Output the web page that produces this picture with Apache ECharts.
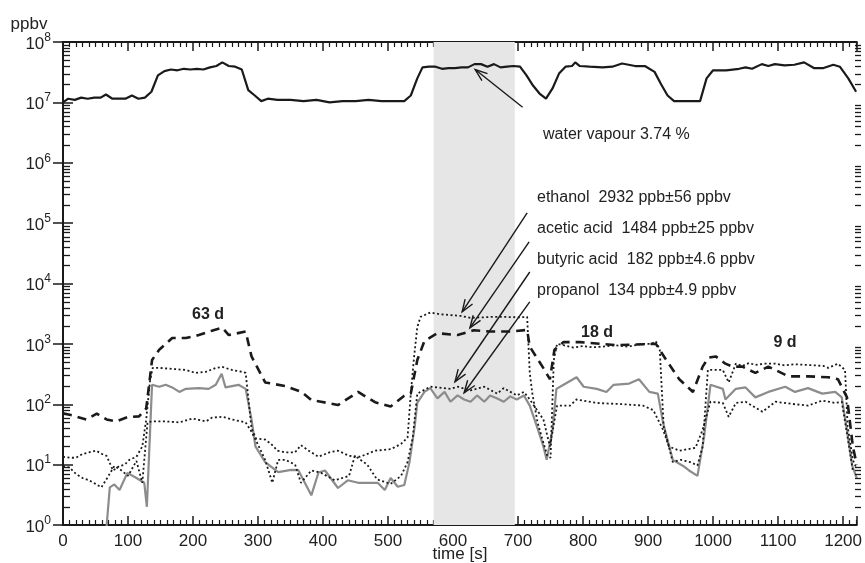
<!DOCTYPE html>
<html>
<head>
<meta charset="utf-8">
<script src="https://cdn.jsdelivr.net/npm/echarts@6/dist/echarts.min.js"></script>
<style>
html, body { margin: 0; background: #fff; }
#chart { width: 865px; height: 563px; }
</style>
</head>
<body>
<div id="chart"></div>
<script>
// time [s], concentration [ppbv]
const water = [[0,1.0e7],[8,1.15e7],[18,1.1e7],[28,1.2e7],[38,1.15e7],[48,1.2e7],[58,1.2e7],[66,1.35e7],[76,1.15e7],[86,1.15e7],[96,1.15e7],[106,1.3e7],[116,1.15e7],[126,1.2e7],[136,1.5e7],[146,2.8e7],[156,3.3e7],[166,3.5e7],[176,3.4e7],[186,3.6e7],[196,3.5e7],[206,3.6e7],[216,3.5e7],[226,3.8e7],[236,4.0e7],[245,4.6e7],[255,4.0e7],[265,3.9e7],[275,3.5e7],[285,1.6e7],[295,1.3e7],[305,1.05e7],[315,1.15e7],[330,1.1e7],[350,1.1e7],[370,1.05e7],[390,1.1e7],[410,1.0e7],[430,1.05e7],[450,1.05e7],[470,1.1e7],[490,1.05e7],[510,1.05e7],[525,1.05e7],[535,1.3e7],[545,2.5e7],[553,3.8e7],[563,3.9e7],[573,3.9e7],[583,3.6e7],[593,3.7e7],[603,3.7e7],[613,3.8e7],[623,3.8e7],[633,4.3e7],[643,4.3e7],[653,3.9e7],[663,4.3e7],[673,3.8e7],[683,3.9e7],[693,4.0e7],[703,3.9e7],[713,2.8e7],[723,1.9e7],[733,1.4e7],[743,1.15e7],[753,1.7e7],[763,3.0e7],[773,3.9e7],[783,4.0e7],[788,4.6e7],[795,4.0e7],[810,3.9e7],[830,3.8e7],[845,3.9e7],[860,4.4e7],[870,4.2e7],[880,4.0e7],[895,4.0e7],[910,3.2e7],[920,2.0e7],[930,1.3e7],[940,1.05e7],[960,1.05e7],[980,1.05e7],[990,2.5e7],[1000,3.4e7],[1020,3.4e7],[1040,3.6e7],[1050,3.8e7],[1060,3.6e7],[1075,4.3e7],[1085,4.0e7],[1095,4.3e7],[1110,4.1e7],[1125,4.2e7],[1140,4.6e7],[1155,3.7e7],[1170,3.7e7],[1185,4.2e7],[1195,3.9e7],[1208,2.5e7],[1220,1.5e7]];

const acetic = [[0,71],[15,65],[36,56],[52,70],[67,56],[82,52],[99,61],[117,63],[128,85],[137,540],[148,800],[168,1250],[189,1250],[209,1400],[229,1650],[245,1850],[255,1400],[281,1600],[290,620],[311,230],[342,200],[367,160],[382,117],[397,110],[423,97],[454,160],[480,108],[504,92],[525,138],[535,150],[545,540],[556,1120],[576,1500],[607,1400],[632,1680],[657,1600],[688,1600],[714,1700],[718,900],[740,380],[749,260],[756,800],[770,1070],[795,1070],[851,950],[912,1000],[928,540],[948,260],[969,160],[984,420],[993,590],[1004,620],[1019,470],[1030,420],[1045,420],[1065,330],[1085,420],[1116,290],[1146,290],[1177,280],[1192,260],[1206,130],[1215,20],[1221,10]];

const ethanol = [[0,13.5],[10,13],[20,13],[30,15],[40,16],[51,17],[60,15],[67,14],[77,8],[87,9.5],[95,10],[102,12],[113,13.5],[122,20],[128,56],[134,250],[138,400],[148,400],[168,385],[189,370],[204,330],[220,345],[235,400],[245,415],[260,370],[275,345],[281,330],[290,40],[297,27],[311,26],[320,22],[330,17],[342,16],[357,16],[366,21],[378,17],[393,13.5],[410,16],[423,17],[440,14],[457,13.5],[480,17],[504,18],[520,22],[530,28],[535,150],[540,600],[545,1900],[550,2800],[565,3300],[580,3100],[596,3000],[612,2900],[627,2700],[645,2750],[660,2800],[678,2800],[700,2750],[714,2800],[718,330],[722,150],[730,50],[738,25],[745,14],[750,13],[755,540],[760,1000],[770,950],[785,870],[800,920],[815,880],[830,900],[850,950],[870,900],[890,1000],[905,1000],[912,1100],[918,800],[924,43],[932,20],[938,11],[950,12],[965,11],[976,9.7],[984,20],[992,370],[1000,370],[1015,370],[1024,230],[1035,470],[1045,430],[1055,480],[1065,450],[1080,470],[1096,470],[1110,440],[1126,460],[1140,450],[1157,440],[1170,430],[1177,400],[1192,470],[1203,370],[1207,43],[1215,12],[1220,9]];

const butyric = [[0,9.4],[10,9],[20,7],[30,6],[40,5.5],[50,4.8],[59,4.2],[68,6],[79,9.5],[90,8],[100,6.5],[113,11.5],[122,5],[130,50],[137,52],[158,52],[179,50],[199,58],[220,52],[229,60],[245,62],[260,56],[281,50],[290,35],[297,25],[311,12],[322,5],[331,12],[342,12],[357,10],[366,5],[382,8],[397,7.3],[418,5.5],[440,6.5],[449,14],[468,10],[483,5.7],[504,4.8],[520,6.5],[530,11],[538,28],[545,150],[565,195],[596,180],[607,195],[627,170],[648,195],[668,150],[678,185],[698,140],[709,160],[718,120],[739,56],[749,20],[760,95],[780,95],[790,120],[821,105],[862,100],[892,95],[908,80],[923,38],[932,20],[948,17],[973,19],[984,38],[996,110],[1015,105],[1024,62],[1035,105],[1050,110],[1076,75],[1096,110],[1126,100],[1146,95],[1168,115],[1188,105],[1198,110],[1207,28],[1215,8]];

const propanol = [[66,0.7],[72,4.2],[79,4.7],[87,3.8],[99,7.3],[113,6],[125,5],[129,2],[137,210],[148,195],[158,210],[168,190],[179,160],[189,180],[209,185],[224,180],[235,210],[244,320],[250,190],[260,200],[270,210],[281,180],[290,56],[296,20],[311,11],[331,7.5],[351,8.2],[362,8.1],[382,3.1],[393,7.4],[403,8],[423,4.1],[438,5.5],[454,5],[484,5],[495,3.8],[504,6],[515,4.3],[525,4.6],[533,11],[541,43],[545,105],[556,160],[565,185],[576,125],[587,160],[596,110],[607,140],[617,120],[627,110],[637,140],[648,110],[657,140],[668,125],[678,110],[688,135],[698,120],[709,140],[718,95],[729,43],[739,20],[744,12],[753,37],[759,180],[770,210],[790,280],[801,195],[821,180],[836,160],[847,210],[871,220],[886,260],[902,160],[915,150],[923,50],[938,12],[954,9.5],[963,8],[976,6.5],[986,28],[996,210],[1015,180],[1019,120],[1035,180],[1050,190],[1065,130],[1085,160],[1111,195],[1126,160],[1146,185],[1168,150],[1188,160],[1198,130],[1206,37],[1214,9.6],[1221,6]];

// highlighted interval [s]
const shade = [570, 695];

// arrows: [x0, y0, x1 (tip), y1 (tip)]
const arrows = [
  [707, 8.3e6, 634, 3.5e7],
  [714, 1.48e5, 614, 3400],
  [717, 4.9e4, 626, 1840],
  [718, 1.55e4, 603, 236],
  [718, 4960, 617, 155]
];

const xMin = 0;
const xMax = 1221;
const font = 'Liberation Sans, Arial, Helvetica, sans-serif';
const ink = '#1a1a1a';
const gridBox = { left: 63, right: 3, top: 42, bottom: 38 };

// log minor tick values 2..9 per decade
const minorVals = [];
for (let k = 0; k < 8; k++) {
  for (let d = 2; d <= 9; d++) minorVals.push(d * Math.pow(10, k));
}

const chart = echarts.init(document.getElementById('chart'));

function lineSeries(name, data, color, width, type, z) {
  return {
    name: name,
    type: 'line',
    data: data,
    showSymbol: false,
    symbol: 'none',
    z: z,
    lineStyle: { color: color, width: width, type: type },
    silent: true
  };
}

function label(text, x, y, size, opts) {
  return {
    type: 'text', x: x, y: y, silent: true,
    style: Object.assign({ text: text, font: size + 'px ' + font, fill: '#222', verticalAlign: 'middle' }, opts || {})
  };
}

const texts = [
  label('ppbv', 29, 24, 17, { align: 'center' }),
  label('time [s]', 460, 554, 17, { align: 'center' }),
  label('water vapour 3.74 %', 543, 135, 16),
  label('ethanol  2932 ppb\u00b156 ppbv', 537, 198, 16),
  label('acetic acid  1484 ppb\u00b125 ppbv', 537, 229, 16),
  label('butyric acid  182 ppb\u00b14.6 ppbv', 537, 260, 16),
  label('propanol  134 ppb\u00b14.9 ppbv', 537, 291, 16),
  label('63 d', 208, 315, 16, { align: 'center', font: 'bold 16px ' + font }),
  label('42 d', 453, 288, 16, { align: 'center', font: 'bold 16px ' + font }),
  label('18 d', 597, 333, 16, { align: 'center', font: 'bold 16px ' + font }),
  label('9 d', 785, 343, 16, { align: 'center', font: 'bold 16px ' + font })
];

const waterSeries = lineSeries('water vapour', water, ink, 2.2, 'solid', 5);
waterSeries.markArea = {
  silent: true,
  itemStyle: { color: '#e6e6e6' },
  data: [[{ xAxis: shade[0] }, { xAxis: shade[1] }]]
};

const tickStyle = { color: ink, width: 1.5 };
const minorStyle = { color: ink, width: 1.2 };

chart.setOption({
  animation: false,
  backgroundColor: '#fff',
  textStyle: { fontFamily: font },
  grid: gridBox,
  xAxis: [
    {
      type: 'value', min: xMin, max: xMax, interval: 100,
      axisLine: { lineStyle: { color: ink, width: 2 } },
      axisTick: { inside: true, length: 9, lineStyle: tickStyle },
      minorTick: { show: true, splitNumber: 10, length: 5, lineStyle: minorStyle },
      splitLine: { show: false },
      axisLabel: {
        margin: 8, fontSize: 17, color: '#222', fontFamily: font,
        showMaxLabel: false,
        formatter: v => (v % 100 === 0 ? String(v) : '')
      }
    },
    {
      type: 'value', min: xMin, max: xMax, interval: 100, position: 'top',
      axisLine: { lineStyle: { color: ink, width: 2 } },
      axisTick: { inside: true, length: 9, lineStyle: tickStyle },
      minorTick: { show: true, splitNumber: 10, length: 5, lineStyle: minorStyle },
      splitLine: { show: false },
      axisLabel: { show: false }
    }
  ],
  yAxis: [
    {
      type: 'log', logBase: 10, min: 1, max: 1e8, interval: 1,
      axisLine: { lineStyle: { color: ink, width: 2 } },
      axisTick: { inside: true, length: 10, lineStyle: tickStyle },
      splitLine: { show: false },
      axisLabel: {
        margin: 12, color: '#222',
        formatter: v => '{b|10}{s|' + Math.round(Math.log10(v)) + '}',
        rich: {
          b: { fontSize: 17, fontFamily: font, color: '#222', verticalAlign: 'bottom' },
          s: { fontSize: 12, fontFamily: font, color: '#222', verticalAlign: 'bottom', padding: [0, 0, 9, 0] }
        }
      }
    },
    {
      type: 'log', logBase: 10, min: 1, max: 1e8, interval: 1, position: 'right',
      axisLine: { lineStyle: { color: ink, width: 2 } },
      axisTick: { inside: true, length: 10, lineStyle: tickStyle },
      splitLine: { show: false },
      axisLabel: { show: false }
    }
  ],
  graphic: texts,
  series: [
    waterSeries,
    lineSeries('propanol', propanol, '#8c8c8c', 2.2, 'solid', 4),
    lineSeries('acetic acid', acetic, ink, 2.6, [9, 6], 5),
    lineSeries('ethanol', ethanol, ink, 1.8, [2, 2.5], 5),
    lineSeries('butyric acid', butyric, ink, 1.8, [2, 2.5], 5),
    {
      type: 'custom', silent: true, z: 6,
      data: arrows,
      encode: { x: [0, 2], y: [1, 3] },
      renderItem: function (params, api) {
        const a = api.coord([api.value(0), api.value(1)]);
        const b = api.coord([api.value(2), api.value(3)]);
        const ang = Math.atan2(b[1] - a[1], b[0] - a[0]);
        const L = 13, w = 0.35;
        const h1 = [b[0] - L * Math.cos(ang - w), b[1] - L * Math.sin(ang - w)];
        const h2 = [b[0] - L * Math.cos(ang + w), b[1] - L * Math.sin(ang + w)];
        const st = { stroke: ink, lineWidth: 1.4, fill: null };
        return {
          type: 'group',
          children: [
            { type: 'line', shape: { x1: a[0], y1: a[1], x2: b[0], y2: b[1] }, style: st },
            { type: 'polyline', shape: { points: [h1, b, h2] }, style: st }
          ]
        };
      }
    }
  ]
});

// log minor ticks on both frame sides: y from the axis scale, drawn on a top layer
const frameLeft = gridBox.left;
const frameRight = chart.getWidth() - gridBox.right;
const minorLines = [];
minorVals.forEach(v => {
  const y = chart.convertToPixel({ yAxisIndex: 0 }, v);
  if (y == null || isNaN(y)) return;
  const yy = Math.round(y) + 0.5;
  minorLines.push({ type: 'line', silent: true, zlevel: 2, z: 100,
    shape: { x1: frameLeft + 1, y1: yy, x2: frameLeft + 7, y2: yy },
    style: { stroke: ink, lineWidth: 1.3 } });
  minorLines.push({ type: 'line', silent: true, zlevel: 2, z: 100,
    shape: { x1: frameRight - 7, y1: yy, x2: frameRight - 1, y2: yy },
    style: { stroke: ink, lineWidth: 1.3 } });
});
chart.setOption({ graphic: texts.concat(minorLines) });
</script>
</body>
</html>
